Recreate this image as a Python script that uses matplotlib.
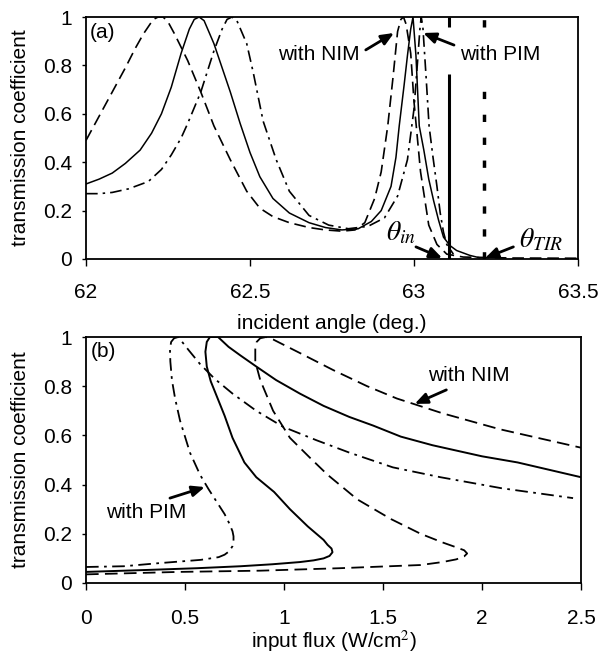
# -*- coding: utf-8 -*-
import numpy as np
import matplotlib.pyplot as plt

# ---------------- data, panel (a): transmission vs incident angle
angle_nim = [62.0, 62.04, 62.08, 62.12, 62.15, 62.175, 62.19, 62.205, 62.22, 62.235, 62.25, 62.27,
             62.31, 62.35, 62.39, 62.44, 62.49, 62.53, 62.57, 62.62, 62.68, 62.73, 62.78, 62.82,
             62.85, 62.88, 62.9, 62.92, 62.936, 62.95, 62.96, 62.968, 62.976, 62.99, 63.0, 63.02,
             63.045, 63.07, 63.1, 63.15, 63.3, 63.5]
t_nim_a = [0.49, 0.59, 0.69, 0.79, 0.87, 0.93, 0.96, 0.99, 1.0, 1.0, 0.98, 0.93,
           0.82, 0.69, 0.55, 0.41, 0.28, 0.21, 0.175, 0.15, 0.13, 0.12, 0.115, 0.12,
           0.15, 0.25, 0.36, 0.55, 0.75, 0.94, 0.99, 1.0, 0.97, 0.85, 0.65, 0.36,
           0.14, 0.06, 0.02, 0.008, 0.004, 0.003]

angle_sol = [62.0, 62.04, 62.08, 62.12, 62.165, 62.2, 62.23, 62.26, 62.29, 62.315, 62.33, 62.345,
             62.36, 62.39, 62.415, 62.44, 62.47, 62.5, 62.53, 62.57, 62.62, 62.68, 62.73, 62.78,
             62.83, 62.87, 62.9, 62.93, 62.945, 62.955, 62.97, 62.98, 62.99, 62.997, 63.006, 63.016,
             63.03, 63.045, 63.06, 63.075, 63.09, 63.11, 63.13, 63.17, 63.2]
t_sol_a = [0.31, 0.33, 0.355, 0.395, 0.45, 0.52, 0.6, 0.71, 0.85, 0.95, 0.99, 1.0,
           0.985, 0.89, 0.79, 0.69, 0.56, 0.44, 0.34, 0.25, 0.19, 0.15, 0.13, 0.12,
           0.125, 0.155, 0.2, 0.3, 0.42, 0.55, 0.72, 0.84, 0.95, 1.0, 0.84, 0.55,
           0.45, 0.33, 0.24, 0.16, 0.09, 0.055, 0.035, 0.015, 0.005]

angle_pim = [62.0, 62.04, 62.08, 62.13, 62.19, 62.23, 62.26, 62.29, 62.31, 62.35, 62.39, 62.415,
             62.43, 62.445, 62.46, 62.49, 62.51, 62.54, 62.58, 62.62, 62.68, 62.74, 62.8, 62.86,
             62.91, 62.95, 62.98, 63.0, 63.01, 63.018, 63.022, 63.027, 63.037, 63.046, 63.058, 63.07,
             63.08, 63.09, 63.1, 63.12]
t_pim_a = [0.27, 0.27, 0.275, 0.29, 0.32, 0.37, 0.43, 0.5, 0.56, 0.69, 0.86, 0.95,
           0.99, 1.0, 0.985, 0.89, 0.77, 0.57, 0.41, 0.28, 0.18, 0.14, 0.125, 0.135,
           0.17, 0.26, 0.41, 0.62, 0.8, 0.95, 1.0, 0.96, 0.75, 0.55, 0.42, 0.3,
           0.19, 0.11, 0.06, 0.02]

theta_in = 63.107
theta_tir = 63.213
theta_in_segments = [(0.0, 0.765), (0.96, 1.0)]
theta_tir_segments = [(0.0, 0.73), (0.96, 1.0)]

# ---------------- data, panel (b): transmission vs input flux
flux_pim = [0.0, 0.19, 0.36, 0.58, 0.67, 0.70, 0.725, 0.74, 0.745, 0.745, 0.74, 0.725, 0.70, 0.66,
            0.62, 0.576, 0.525, 0.475, 0.45, 0.434, 0.426, 0.424, 0.43, 0.445, 0.466, 0.52,
            0.576, 0.65, 0.74, 0.86, 0.995, 1.165, 1.33, 1.55, 1.79, 2.1, 2.46]
t_pim_b = [0.065, 0.068, 0.08, 0.094, 0.105, 0.115, 0.13, 0.15, 0.17, 0.19, 0.21, 0.24, 0.28, 0.33,
           0.38, 0.44, 0.53, 0.66, 0.75, 0.825, 0.9, 0.95, 0.98, 0.995, 1.0, 0.945,
           0.89, 0.83, 0.77, 0.7, 0.635, 0.58, 0.53, 0.47, 0.43, 0.385, 0.345]

flux_sol = [0.0, 0.31, 0.56, 0.78, 0.94, 1.08, 1.15, 1.2, 1.23, 1.245, 1.24, 1.22, 1.2, 1.12,
            1.03, 0.95, 0.86, 0.8, 0.74, 0.7, 0.66, 0.63, 0.61, 0.603, 0.61, 0.626, 0.667,
            0.72, 0.78, 0.86, 0.96, 1.08, 1.2, 1.33, 1.45, 1.59, 1.75, 2.0, 2.18, 2.5]
t_sol_b = [0.045, 0.053, 0.06, 0.068, 0.076, 0.085, 0.092, 0.1, 0.11, 0.125, 0.14, 0.155, 0.175, 0.23,
           0.3, 0.37, 0.43, 0.49, 0.59, 0.68, 0.76, 0.82, 0.88, 0.94, 0.98, 1.0, 1.0,
           0.96, 0.925, 0.88, 0.825, 0.77, 0.72, 0.675, 0.64, 0.595, 0.56, 0.515, 0.49, 0.43]

flux_nim = [0.0, 0.47, 0.88, 1.28, 1.69, 1.8, 1.87, 1.91, 1.925, 1.91, 1.87, 1.8, 1.69, 1.54,
            1.37, 1.22, 1.13, 1.03, 0.945, 0.88, 0.855, 0.855, 0.862, 0.88, 0.91, 0.945, 1.08,
            1.25, 1.42, 1.57, 1.8, 2.09, 2.5]
t_nim_b = [0.035, 0.045, 0.05, 0.06, 0.073, 0.085, 0.096, 0.108, 0.12, 0.133, 0.145, 0.165, 0.2, 0.26,
           0.34, 0.44, 0.51, 0.59, 0.7, 0.825, 0.9, 0.95, 0.98, 0.995, 1.0, 0.99, 0.935,
           0.865, 0.8, 0.75, 0.69, 0.625, 0.55]

# ---------------- style
plt.rcParams['font.family'] = ['Liberation Sans', 'DejaVu Sans']
plt.rcParams['mathtext.fontset'] = 'stix'
FS = 15
dash = (0, (7, 3.5))
dashdot = (0, (7, 3, 1.5, 3))
arrow = dict(arrowstyle='-|>,head_length=0.75,head_width=0.32', lw=2, color='k',
             shrinkA=0, shrinkB=0)

fig = plt.figure(figsize=(6.01, 6.54), dpi=100)
ax1 = fig.add_axes([0.1431, 0.604, 0.8186, 0.370])
ax2 = fig.add_axes([0.1431, 0.1086, 0.8236, 0.3761])

# ---------------- panel (a)
ax1.plot(angle_nim, t_nim_a, color='k', lw=1.2, linestyle=dash)
ax1.plot(angle_sol, t_sol_a, color='k', lw=1.1, linestyle='-')
ax1.plot(angle_pim, t_pim_a, color='k', lw=1.2, linestyle=dashdot)
for y0, y1 in theta_in_segments:
    ax1.plot([theta_in, theta_in], [y0, y1], color='k', lw=2.2, solid_capstyle='butt')
for y0, y1 in theta_tir_segments:
    ax1.plot([theta_tir, theta_tir], [y0, y1], color='k', lw=2.5,
             linestyle=(0, (2.1, 4.5)), dash_capstyle='butt')

ax1.set_xlim(62, 63.5)
ax1.set_ylim(0, 1)
ax1.set_xticks([62, 62.5, 63, 63.5])
ax1.set_xticklabels(['62', '62.5', '63', '63.5'])
ax1.set_yticks([0, 0.2, 0.4, 0.6, 0.8, 1])
ax1.set_yticklabels(['0', '0.2', '0.4', '0.6', '0.8', '1'])
ax1.set_xlabel('incident angle (deg.)', fontsize=FS, labelpad=9)
ax1.set_ylabel('transmission coefficient', fontsize=FS, labelpad=9)

ax1.text(62.012, 0.935, '(a)', fontsize=FS, va='center', ha='left')
ax1.text(62.584, 0.843, 'with NIM', fontsize=FS, va='center', ha='left')
ax1.annotate('', xy=(62.939, 0.934), xytext=(62.853, 0.864), arrowprops=arrow)
ax1.text(63.141, 0.843, 'with PIM', fontsize=FS, va='center', ha='left')
ax1.annotate('', xy=(63.028, 0.934), xytext=(63.122, 0.884), arrowprops=arrow)
ax1.text(62.914, 0.107, r'$\theta_{in}$', fontsize=20, va='center', ha='left')
ax1.annotate('', xy=(63.086, 0.004), xytext=(63.006, 0.05), arrowprops=arrow)
ax1.text(63.321, 0.08, r'$\theta_{TIR}$', fontsize=20, va='center', ha='left')
ax1.annotate('', xy=(63.217, 0.004), xytext=(63.303, 0.05), arrowprops=arrow)

# ---------------- panel (b)
ax2.plot(flux_nim, t_nim_b, color='k', lw=1.3, linestyle=dash)
ax2.plot(flux_sol, t_sol_b, color='k', lw=1.4, linestyle='-')
ax2.plot(flux_pim, t_pim_b, color='k', lw=1.3, linestyle=dashdot)

ax2.set_xlim(0, 2.5)
ax2.set_ylim(0, 1)
ax2.set_xticks([0, 0.5, 1, 1.5, 2, 2.5])
ax2.set_xticklabels(['0', '0.5', '1', '1.5', '2', '2.5'])
ax2.set_yticks([0, 0.2, 0.4, 0.6, 0.8, 1])
ax2.set_yticklabels(['0', '0.2', '0.4', '0.6', '0.8', '1'])
ax2.set_xlabel('input flux (W/cm$^2$)', fontsize=FS, labelpad=0)
ax2.set_ylabel('transmission coefficient', fontsize=FS, labelpad=9)

ax2.text(0.025, 0.94, '(b)', fontsize=FS, va='center', ha='left')
ax2.text(1.727, 0.845, 'with NIM', fontsize=FS, va='center', ha='left')
ax2.annotate('', xy=(1.66, 0.728), xytext=(1.82, 0.785), arrowprops=arrow)
ax2.text(0.10, 0.285, 'with PIM', fontsize=FS, va='center', ha='left')
ax2.annotate('', xy=(0.60, 0.39), xytext=(0.424, 0.345), arrowprops=arrow)

for ax in (ax1, ax2):
    for s in ax.spines.values():
        s.set_linewidth(1.3)
    ax.tick_params(axis='y', direction='out', length=3, width=1, labelsize=FS, pad=7)
ax1.tick_params(axis='x', direction='out', length=5, width=1, labelsize=FS, pad=12)
ax2.tick_params(axis='x', direction='out', length=5, width=1, labelsize=FS, pad=14)

plt.savefig('out.png', dpi=100)
